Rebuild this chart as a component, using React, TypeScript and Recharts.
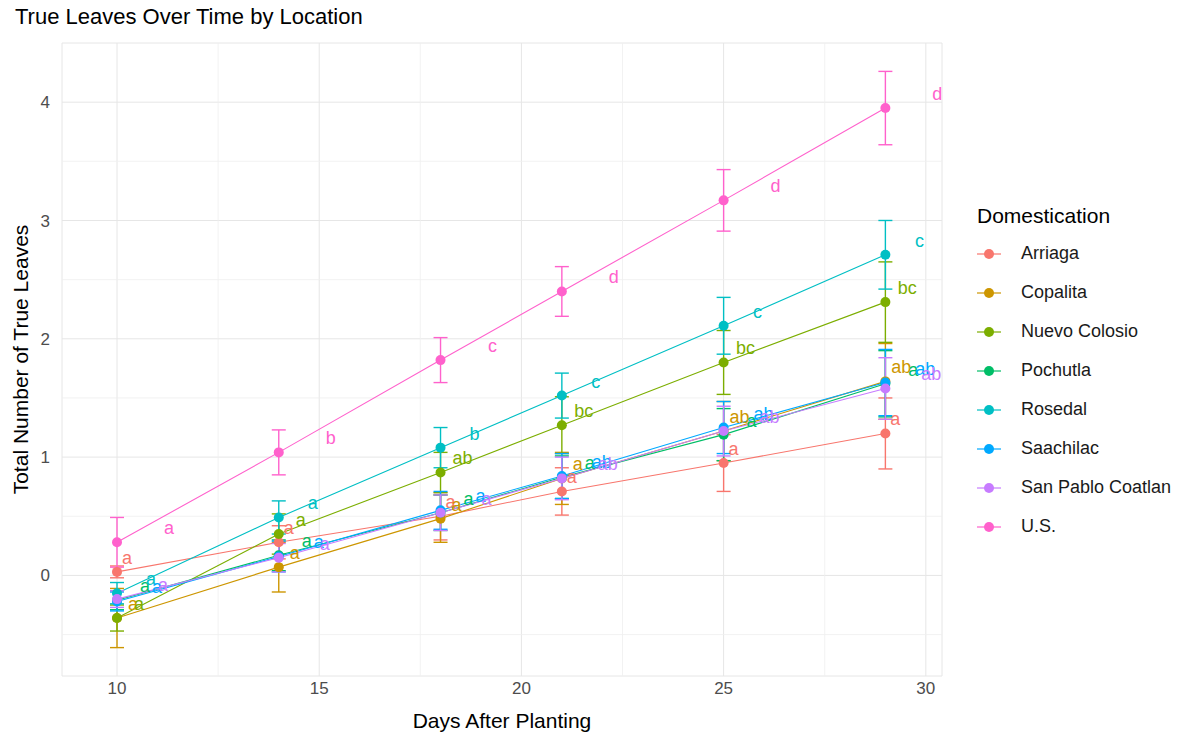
import { LineChart, Line, XAxis, YAxis, CartesianGrid, ErrorBar, LabelList, ReferenceLine } from "recharts";

const FONT = '"Liberation Sans", Arial, sans-serif';

const days = [10, 14, 18, 21, 25, 29];

const locations = [
    "Arriaga",
    "Copalita",
    "Nuevo Colosio",
    "Pochutla",
    "Rosedal",
    "Saachilac",
    "San Pablo Coatlan",
    "U.S.",
];

// default ggplot hue palette for 8 groups
const COLORS = ["#F8766D", "#CD9600", "#7CAE00", "#00BE67", "#00BFC4", "#00A9FF", "#C77CFF", "#FF61CC"];

// mean true leaves per location (rows) and day (columns)
const meanLeaves = [
    [0.03, 0.28, 0.5, 0.71, 0.95, 1.2],
    [-0.36, 0.07, 0.48, 0.82, 1.22, 1.64],
    [-0.36, 0.35, 0.87, 1.27, 1.8, 2.31],
    [-0.21, 0.17, 0.53, 0.83, 1.19, 1.62],
    [-0.15, 0.49, 1.08, 1.52, 2.11, 2.71],
    [-0.22, 0.16, 0.55, 0.84, 1.25, 1.63],
    [-0.2, 0.15, 0.53, 0.82, 1.22, 1.58],
    [0.28, 1.04, 1.82, 2.4, 3.17, 3.95],
];

// standard errors
const seLeaves = [
    [0.05, 0.14, 0.2, 0.2, 0.24, 0.3],
    [0.25, 0.21, 0.2, 0.22, 0.25, 0.32],
    [0.11, 0.17, 0.17, 0.24, 0.27, 0.34],
    [0.08, 0.13, 0.15, 0.18, 0.22, 0.28],
    [0.09, 0.14, 0.17, 0.19, 0.24, 0.29],
    [0.08, 0.13, 0.16, 0.19, 0.22, 0.28],
    [0.07, 0.12, 0.15, 0.18, 0.21, 0.26],
    [0.21, 0.19, 0.19, 0.21, 0.26, 0.31],
];

// Tukey group letters
const groupLetters = [
    ["a", "a", "a", "a", "a", "a"],
    ["a", "a", "a", "a", "ab", "ab"],
    ["a", "a", "ab", "bc", "bc", "bc"],
    ["a", "a", "a", "a", "a", "a"],
    ["a", "a", "b", "c", "c", "c"],
    ["a", "a", "a", "ab", "ab", "ab"],
    ["a", "a", "a", "ab", "ab", "ab"],
    ["a", "b", "c", "d", "d", "d"],
];

const xTicks = [10, 15, 20, 25, 30];
const xMinor = [12.5, 17.5, 22.5, 27.5];
const yTicks = [0, 1, 2, 3, 4];
const yMinor = [-0.5, 0.5, 1.5, 2.5, 3.5];

const series = locations.map((name, i) => ({
    name,
    color: COLORS[i],
    data: days.map((day, j) => ({
        day,
        mean: meanLeaves[i][j],
        se: seLeaves[i][j],
        letter: groupLetters[i][j],
    })),
}));

const letterLabel = (color: string, dx: number) => (props: any) => {
    const { x, y, value } = props;
    if (x == null || y == null) return null;
    return (
        <text x={x + dx} y={y - 14} fill={color} fontSize={18} fontFamily={FONT} textAnchor="middle" dominantBaseline="central">
            {value}
        </text>
    );
};

function LegendBox() {
    return (
        <div style={{ position: "absolute", left: 977, top: 201, fontFamily: FONT }}>
            <div style={{ fontSize: 21, color: "#000", height: 30, lineHeight: "30px", marginBottom: 3 }}>Domestication</div>
            {series.map((s) => (
                <div key={s.name} style={{ display: "flex", alignItems: "center", height: 39 }}>
                    <svg width={24} height={12}>
                        <line x1={0} y1={6} x2={24} y2={6} stroke={s.color} strokeWidth={1.2} />
                        <circle cx={12} cy={6} r={5} fill={s.color} />
                    </svg>
                    <span style={{ marginLeft: 20, fontSize: 18, color: "#1a1a1a" }}>{s.name}</span>
                </div>
            ))}
        </div>
    );
}

export default function App() {
    return (
        <div style={{ position: "relative", width: 1183, height: 733, background: "#fff", fontFamily: FONT }}>
            <style>{`body { margin: 0; }`}</style>
            <div style={{ position: "absolute", left: 15, top: 4, fontSize: 22, color: "#000", zIndex: 2 }}>
                True Leaves Over Time by Location
            </div>
            <LegendBox />
            <LineChart width={1183} height={733} margin={{ top: 43, right: 241, bottom: 0, left: 0 }}>
                <CartesianGrid stroke="#e6e6e6" strokeWidth={1} />
                {xMinor.map((v) => (
                    <ReferenceLine key={`vx${v}`} x={v} stroke="#efefef" strokeWidth={0.8} />
                ))}
                {yMinor.map((v) => (
                    <ReferenceLine key={`hy${v}`} y={v} stroke="#efefef" strokeWidth={0.8} />
                ))}
                <XAxis
                    type="number"
                    dataKey="day"
                    domain={[8.64, 30.4]}
                    ticks={xTicks}
                    allowDataOverflow
                    axisLine={false}
                    tickLine={false}
                    tickSize={0}
                    tickMargin={6}
                    height={57}
                    tick={{ fill: "#4d4d4d", fontSize: 17, fontFamily: FONT }}
                    label={{ value: "Days After Planting", position: "insideBottom", offset: 5, fill: "#000", fontSize: 21, fontFamily: FONT }}
                />
                <YAxis
                    type="number"
                    domain={[-0.85, 4.5]}
                    ticks={yTicks}
                    allowDataOverflow
                    axisLine={false}
                    tickLine={false}
                    tickSize={0}
                    tickMargin={12}
                    width={62}
                    tick={{ fill: "#4d4d4d", fontSize: 17, fontFamily: FONT }}
                    label={{
                        value: "Total Number of True Leaves",
                        angle: -90,
                        position: "insideLeft",
                        offset: 21,
                        style: { textAnchor: "middle" },
                        fill: "#000",
                        fontSize: 21,
                        fontFamily: FONT,
                    }}
                />
                {series.map((s, i) => (
                    <Line
                        key={s.name}
                        name={s.name}
                        data={s.data}
                        dataKey="mean"
                        stroke={s.color}
                        strokeWidth={1.1}
                        dot={{ r: 5, fill: s.color, stroke: s.color, strokeWidth: 0 }}
                        activeDot={false}
                        isAnimationActive={false}
                    >
                        <ErrorBar dataKey="se" direction="y" width={7} stroke={s.color} strokeWidth={1.4} />
                        <LabelList dataKey="letter" content={letterLabel(s.color, 10 + 6 * i)} />
                    </Line>
                ))}
            </LineChart>
        </div>
    );
}
